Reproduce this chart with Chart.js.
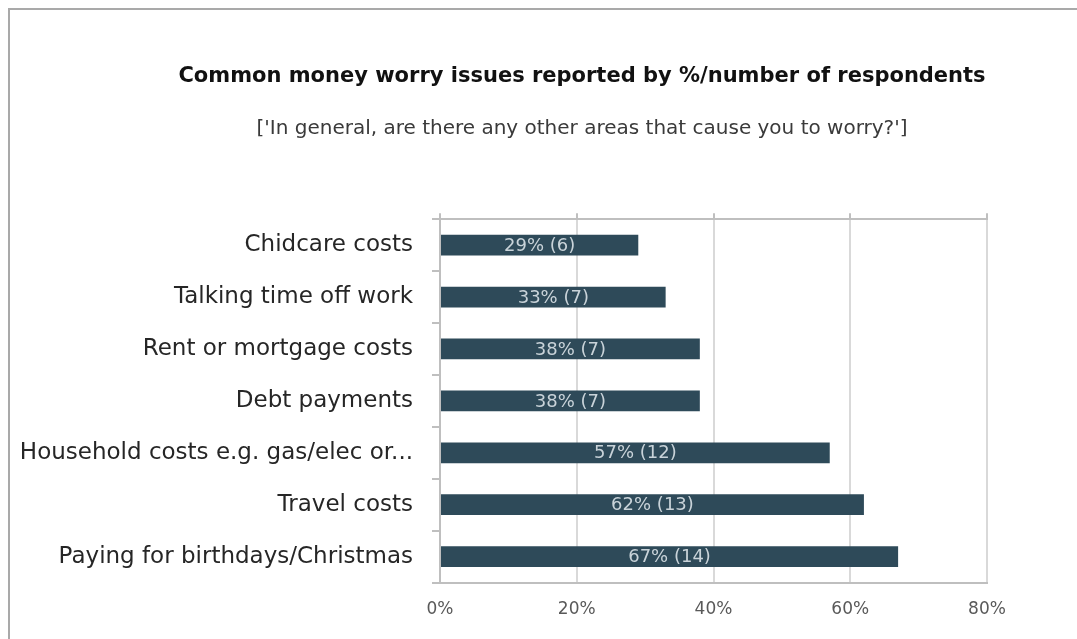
<!DOCTYPE html>
<html>
<head>
<meta charset="utf-8">
<script src="https://cdn.jsdelivr.net/npm/chart.js@4"></script>
<style>
  html, body { margin: 0; padding: 0; background: #fff; overflow: hidden; width: 1077px; height: 639px; }
  #box { position: absolute; left: 8px; top: 8px; width: 1160px; height: 640px;
         border-left: 2px solid #a9a9a9; border-top: 2px solid #a9a9a9; background: #fff; }
  canvas { display: block; }
</style>
</head>
<body>
<div id="box"><canvas id="c" width="1150" height="629"></canvas></div>
<script>
const titleText = "Common money worry issues reported by %/number of respondents";
const subtitleText = "['In general, are there any other areas that cause you to worry?']";
const categories = [
  "Chidcare costs",
  "Talking time off work",
  "Rent or mortgage costs",
  "Debt payments",
  "Household costs e.g. gas/elec or...",
  "Travel costs",
  "Paying for birthdays/Christmas"
];
const percentValues = [29, 33, 38, 38, 57, 62, 67];
const respondentCounts = [6, 7, 7, 7, 12, 13, 14];
const xTickMax = 80;
const xTickStep = 20;

const FONT = "'DejaVu Sans', sans-serif";

const barLabels = {
  id: 'barLabels',
  afterDatasetsDraw(chart) {
    const ctx = chart.ctx;
    const meta = chart.getDatasetMeta(0);
    ctx.save();
    ctx.font = "18px " + FONT;
    ctx.fillStyle = "#c9d3d9";
    ctx.textAlign = "center";
    ctx.textBaseline = "middle";
    meta.data.forEach((bar, i) => {
      const cx = (bar.x + bar.base) / 2;
      ctx.fillText(percentValues[i] + "% (" + respondentCounts[i] + ")", cx, bar.y + 1);
    });
    ctx.restore();
  }
};

new Chart(document.getElementById('c'), {
  type: 'bar',
  data: {
    labels: categories,
    datasets: [{
      data: percentValues,
      backgroundColor: '#2e4a59',
      borderWidth: 0,
      barPercentage: 0.4,
      categoryPercentage: 1.0
    }]
  },
  options: {
    indexAxis: 'y',
    responsive: false,
    animation: false,
    devicePixelRatio: 1,
    layout: { padding: { left: 0, right: 6, top: 0, bottom: 2 } },
    plugins: {
      legend: { display: false },
      tooltip: { enabled: false },
      title: {
        display: true,
        text: titleText,
        color: '#111',
        font: { family: FONT, size: 21, weight: 'bold' },
        padding: { top: 54, bottom: 14 }
      },
      subtitle: {
        display: true,
        text: subtitleText,
        color: '#3a3a3a',
        font: { family: FONT, size: 20 },
        padding: { top: 14, bottom: 72 }
      }
    },
    scales: {
      x: {
        type: 'linear',
        position: 'bottom',
        min: 0,
        max: xTickMax,
        ticks: {
          stepSize: xTickStep,
          color: '#595959',
          padding: 17,
          font: { family: FONT, size: 17 },
          callback: v => v + '%'
        },
        grid: { color: '#d9d9d9', lineWidth: 2, drawTicks: false },
        border: { display: true, color: '#bfbfbf', width: 2 }
      },
      x2: {
        type: 'linear',
        axis: 'x',
        position: 'top',
        min: 0,
        max: xTickMax,
        ticks: { display: false, stepSize: xTickStep },
        grid: { drawOnChartArea: false, drawTicks: true, tickLength: 6, color: '#bfbfbf', lineWidth: 2 },
        border: { display: true, color: '#bfbfbf', width: 2 }
      },
      y: {
        ticks: {
          color: '#262626',
          padding: 19,
          font: { family: FONT, size: 23 }
        },
        grid: { drawOnChartArea: false, tickLength: 8, color: '#bfbfbf', lineWidth: 2 },
        border: { display: true, color: '#bfbfbf', width: 2 },
        afterFit(scale) { scale.width = 430; }
      },
      ySpacer: {
        type: 'linear',
        axis: 'y',
        position: 'right',
        display: true,
        ticks: { display: false },
        grid: { display: false },
        border: { display: false },
        afterFit(scale) { scale.width = 167; }
      }
    }
  },
  plugins: [barLabels]
});
</script>
</body>
</html>
